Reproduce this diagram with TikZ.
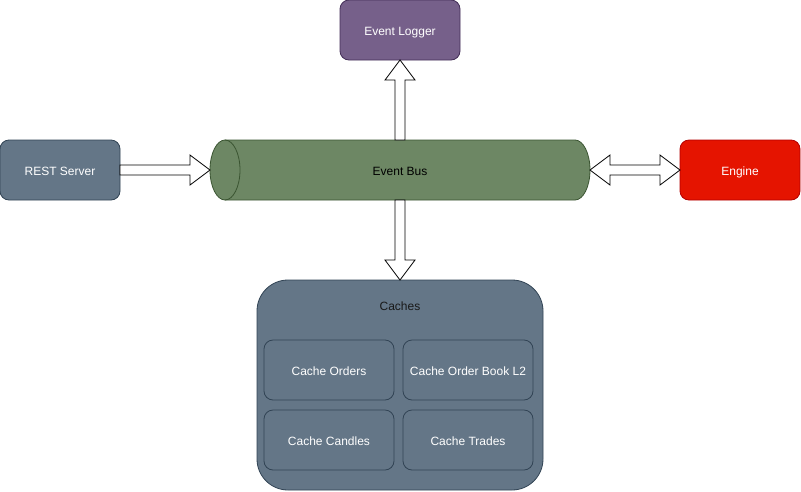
\documentclass[tikz,border=0pt]{standalone}
\usepackage{fontspec}
\setmainfont{Liberation Sans}
\usetikzlibrary{calc}
\definecolor{slatefill}{HTML}{647687}
\definecolor{slatestroke}{HTML}{314354}
\definecolor{purpfill}{HTML}{76608A}
\definecolor{purpstroke}{HTML}{432D57}
\definecolor{redfill}{HTML}{E51400}
\definecolor{redstroke}{HTML}{B20000}
\definecolor{greenfill}{HTML}{6D8764}
\definecolor{greenstroke}{HTML}{3A5431}
\tikzset{
  lbl/.style={font=\fontsize{12pt}{14pt}\selectfont, text height=11pt, text depth=1pt},
  box/.style={draw, rounded corners=9pt, minimum width=120pt, minimum height=60pt,
    inner sep=0pt, outer sep=0pt, text=white, lbl, line width=0.8pt},
  slatebox/.style={box, fill=slatefill, draw=slatestroke},
  cachebox/.style={slatebox, minimum width=130pt},
  barrow/.style={draw=black, fill=white, line width=0.8pt, line join=miter},
}
\begin{document}
\begin{tikzpicture}[x=1pt,y=-1pt]
\useasboundingbox (0,0) rectangle (801,491);
% Event bus cylinder
\draw[fill=greenfill, draw=greenstroke, line width=0.8pt]
  (225,140) -- (575,140) arc[start angle=90, end angle=-90, x radius=15pt, y radius=30pt]
  -- (225,200) arc[start angle=270, end angle=90, x radius=15pt, y radius=30pt] -- cycle;
\draw[draw=greenstroke, line width=0.8pt]
  (225,140) arc[start angle=90, end angle=-90, x radius=15pt, y radius=30pt];
\node[inner sep=0pt, outer sep=0pt, minimum width=380pt, minimum height=60pt, lbl] (bus) at (400,170) {Event Bus};
% boxes
\node[slatebox] (rest) at (60,170) {REST Server};
\node[box, fill=purpfill, draw=purpstroke] (logger) at (400,30) {Event Logger};
\node[box, fill=redfill, draw=redstroke] (engine) at (740,170) {Engine};
\node[slatebox, rounded corners=31pt, minimum width=286pt, minimum height=210pt] (caches) at (400,385) {};
\node[lbl, text=black!90, inner sep=0pt] (cachestitle) at (400,305) {Caches};
\node[cachebox] (corders) at (329,370) {Cache Orders};
\node[cachebox] (cbook) at (468,370) {Cache Order Book L2};
\node[cachebox] (ccandles) at (329,440) {Cache Candles};
\node[cachebox] (ctrades) at (468,440) {Cache Trades};
% arrows
\draw[barrow] ($(rest.east)+(0,-5)$) -- ($(bus.west)+(-20,-5)$) -- ($(bus.west)+(-20,-15)$)
  -- (bus.west) -- ($(bus.west)+(-20,15)$) -- ($(bus.west)+(-20,5)$) -- ($(rest.east)+(0,5)$) -- cycle;
\draw[barrow] ($(bus.north)+(-5,0)$) -- ($(logger.south)+(-5,20)$) -- ($(logger.south)+(-15,20)$)
  -- (logger.south) -- ($(logger.south)+(15,20)$) -- ($(logger.south)+(5,20)$) -- ($(bus.north)+(5,0)$) -- cycle;
\draw[barrow] ($(bus.south)+(-5,0)$) -- ($(caches.north)+(-5,-20)$) -- ($(caches.north)+(-15,-20)$)
  -- (caches.north) -- ($(caches.north)+(15,-20)$) -- ($(caches.north)+(5,-20)$) -- ($(bus.south)+(5,0)$) -- cycle;
\draw[barrow] (bus.east) -- ($(bus.east)+(20,-15)$) -- ($(bus.east)+(20,-5)$)
  -- ($(engine.west)+(-20,-5)$) -- ($(engine.west)+(-20,-15)$) -- (engine.west)
  -- ($(engine.west)+(-20,15)$) -- ($(engine.west)+(-20,5)$)
  -- ($(bus.east)+(20,5)$) -- ($(bus.east)+(20,15)$) -- cycle;
\end{tikzpicture}
\end{document}
